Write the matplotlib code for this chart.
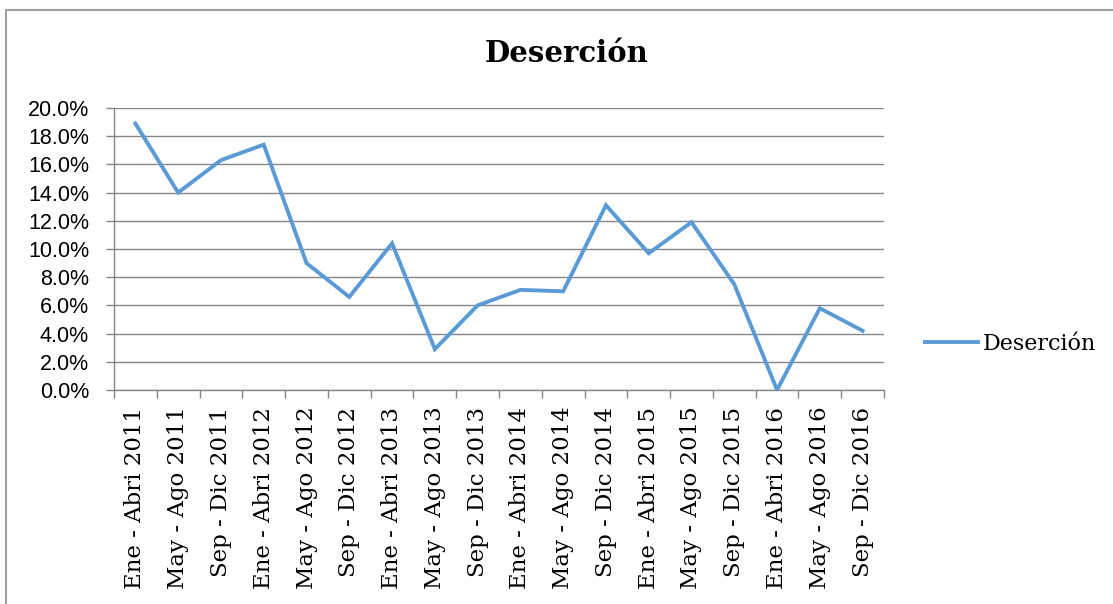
import matplotlib
matplotlib.use("Agg")
import matplotlib.pyplot as plt
from matplotlib.patches import Rectangle
from matplotlib.ticker import FuncFormatter, MultipleLocator
import numpy as np

# periodos y valores de desercion (%)
periodos = ["Ene - Abri 2011", "May - Ago 2011", "Sep - Dic 2011",
            "Ene - Abri 2012", "May - Ago 2012", "Sep - Dic 2012",
            "Ene - Abri 2013", "May - Ago 2013", "Sep - Dic 2013",
            "Ene - Abri 2014", "May - Ago 2014", "Sep - Dic 2014",
            "Ene - Abri 2015", "May - Ago 2015", "Sep - Dic 2015",
            "Ene - Abri 2016", "May - Ago 2016", "Sep - Dic 2016"]
desercion = [18.9, 14.0, 16.3, 17.4, 9.0, 6.6, 10.4, 2.9, 6.0,
             7.1, 7.0, 13.1, 9.7, 11.9, 7.5, 0.0, 5.8, 4.2]

W, H = 1113, 604
fig = plt.figure(figsize=(W / 100, H / 100), dpi=100)
ax = fig.add_axes([114 / W, 1 - 390 / H, 770 / W, 282 / H])

x = np.arange(len(periodos))
ax.plot(x, desercion, color="#5B9BD5", lw=2.8, solid_joinstyle="miter",
        label="Deserción", zorder=3)

ax.set_xlim(-0.5, len(periodos) - 0.5)
ax.set_ylim(0, 20)
ax.yaxis.set_major_locator(MultipleLocator(2))
ax.yaxis.set_major_formatter(FuncFormatter(lambda v, p: f"{v:.1f}%"))
ax.grid(axis="y", color="#868686", lw=1)
ax.set_axisbelow(True)

ax.set_xticks(x)
ax.set_xticklabels(periodos, rotation=90, family="DejaVu Serif", fontsize=16.5)
ax.set_xticks(np.arange(-0.5, len(periodos)), minor=True)
ax.tick_params(axis="x", which="major", length=0, pad=12)
ax.tick_params(axis="x", which="minor", length=6, color="#868686", width=1)
ax.tick_params(axis="y", length=6, color="#868686", width=1, pad=12)
for lab in ax.get_yticklabels():
    lab.set_family("Liberation Sans")
    lab.set_fontsize(15.5)

for s in ["top", "right"]:
    ax.spines[s].set_visible(False)
for s in ["left", "bottom"]:
    ax.spines[s].set_color("#868686")
    ax.spines[s].set_linewidth(1)

fig.text(567 / W, 1 - 53 / H, "Deserción", ha="center", va="center",
         family="DejaVu Serif", fontweight="bold", fontsize=21)

fig.legend(loc="center left", bbox_to_anchor=(925 / W, 1 - 344 / H),
           frameon=False, handlelength=2.4, handletextpad=0.2,
           borderpad=0, borderaxespad=0,
           prop={"family": "DejaVu Serif", "size": 16})

# marco exterior
fig.patches.append(Rectangle((6 / W, -0.05), 1.2, 1 - 10 / H + 0.05,
                             transform=fig.transFigure, fill=False,
                             edgecolor="#a0a0a0", lw=1.5))

fig.savefig("out.png", dpi=100)
